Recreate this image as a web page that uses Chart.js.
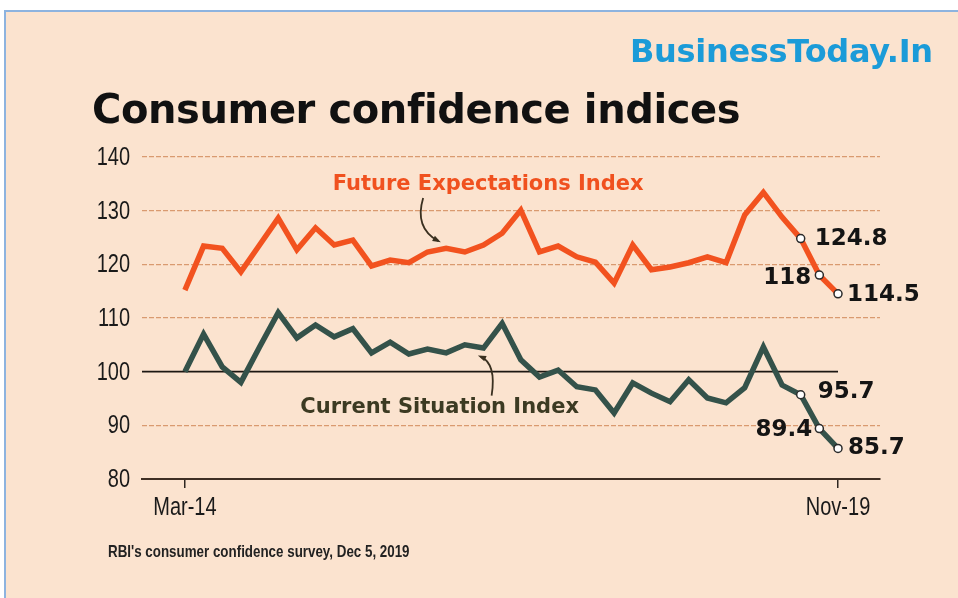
<!DOCTYPE html>
<html>
<head>
<meta charset="utf-8">
<script src="https://cdn.jsdelivr.net/npm/chart.js"></script>
<style>
  html, body { margin: 0; padding: 0; background: #ffffff; }
  #frame {
    position: absolute; left: 4px; top: 10px; width: 954px; height: 588px;
    background: #fbe3cf; border-left: 2px solid #8db3df; border-top: 2px solid #8db3df;
    box-sizing: border-box;
  }
  #chart { position: absolute; left: 0; top: 0; }
  .txt { position: absolute; white-space: nowrap; line-height: 1; transform-origin: left top; }
  #brand { left: 630px; top: 32px; font: bold 32px "DejaVu Sans"; color: #1b9bd8; letter-spacing: -0.3px; }
  #title { left: 92px; top: 86px; font: bold 40px "DejaVu Sans"; color: #111; letter-spacing: -0.4px; }
  #source { left: 108px; top: 542px; font: bold 16.5px "Liberation Sans", Arial, sans-serif; color: #222; transform: scaleX(0.81); }
</style>
</head>
<body>
<div id="frame"></div>
<canvas id="chart" width="958" height="598"></canvas>
<div class="txt" id="brand">BusinessToday.In</div>
<div class="txt" id="title">Consumer confidence indices</div>
<div class="txt" id="source">RBI's consumer confidence survey, Dec 5, 2019</div>
<script>
// survey rounds, Mar-14 .. Nov-19 (only first and last are labelled)
const rounds = [
  'Mar-14', 'May-14', 'Jul-14', 'Sep-14', 'Nov-14',
  'Jan-15', 'Mar-15', 'May-15', 'Jul-15', 'Sep-15', 'Nov-15',
  'Jan-16', 'Mar-16', 'May-16', 'Jul-16', 'Sep-16', 'Nov-16',
  'Jan-17', 'Mar-17', 'May-17', 'Jul-17', 'Sep-17', 'Nov-17', 'Dec-17',
  'Mar-18', 'May-18', 'Jun-18', 'Jul-18', 'Sep-18', 'Nov-18', 'Dec-18',
  'Mar-19', 'May-19', 'Jul-19', 'Sep-19', 'Nov-19'
];
const shownTicks = ['Mar-14', 'Nov-19'];

const futureExpectations = [
  115.2, 123.4, 123.0, 118.6, 123.6, 128.6, 122.7, 126.8, 123.6, 124.5,
  119.7, 120.8, 120.3, 122.3, 123.0, 122.3, 123.6, 125.8, 130.1, 122.3,
  123.4, 121.4, 120.4, 116.5, 123.6, 119.0, 119.5, 120.3, 121.4, 120.3,
  129.2, 133.4, 128.8, 124.8, 118.0, 114.5
];
const currentSituation = [
  100.0, 107.0, 100.9, 98.0, 104.6, 111.0, 106.3, 108.7, 106.5, 108.0,
  103.5, 105.5, 103.3, 104.2, 103.5, 105.0, 104.4, 109.0, 102.2, 99.0,
  100.3, 97.2, 96.6, 92.3, 97.9, 96.0, 94.4, 98.5, 95.1, 94.2,
  97.0, 104.6, 97.5, 95.7, 89.4, 85.7
];
const yTicks = [80, 90, 100, 110, 120, 130, 140];
const baseline = 100;

const asPoints = arr => arr.map((v, i) => ({ x: i, y: v }));
const last = futureExpectations.length - 1;

// offsets for the end-value labels (style only)
const endLabelStyle = [
  { series: 0, idx: last - 2, align: 'left', dx: 14, dy: 0 },
  { series: 0, idx: last - 1, align: 'right', dx: -8, dy: 3 },
  { series: 0, idx: last, align: 'left', dx: 9, dy: 1 },
  { series: 1, idx: last - 2, align: 'left', dx: 17, dy: -3 },
  { series: 1, idx: last - 1, align: 'right', dx: -7, dy: 1 },
  { series: 1, idx: last, align: 'left', dx: 10, dy: 0 }
];

function arrow(ctx, sx, sy, cx, cy, ex, ey) {
  ctx.beginPath();
  ctx.moveTo(sx, sy);
  ctx.quadraticCurveTo(cx, cy, ex, ey);
  ctx.stroke();
  const a = Math.atan2(ey - cy, ex - cx);
  ctx.beginPath();
  ctx.moveTo(ex + Math.cos(a) * 3, ey + Math.sin(a) * 3);
  ctx.lineTo(ex - Math.cos(a - 0.5) * 6, ey - Math.sin(a - 0.5) * 6);
  ctx.lineTo(ex - Math.cos(a + 0.5) * 6, ey - Math.sin(a + 0.5) * 6);
  ctx.closePath();
  ctx.fill();
}

// condensed tick text: regular font squeezed horizontally
function narrowText(ctx, text, px, py, align) {
  ctx.save();
  ctx.translate(px, py);
  ctx.scale(0.8, 1);
  ctx.textAlign = align;
  ctx.fillText(text, 0, 0);
  ctx.restore();
}

const annotations = {
  id: 'annotations',
  beforeDatasetsDraw(chart) {
    const { ctx, chartArea, scales: { x, y } } = chart;
    const py = y.getPixelForValue(baseline);
    ctx.save();
    ctx.strokeStyle = '#1c1712';
    ctx.lineWidth = 1.6;
    ctx.beginPath();
    ctx.moveTo(chartArea.left, py);
    ctx.lineTo(x.getPixelForValue(last), py);
    ctx.stroke();

    // tick labels
    ctx.font = '25px "Liberation Sans", Arial, sans-serif';
    ctx.fillStyle = '#1a1a1a';
    ctx.textBaseline = 'middle';
    y.ticks.forEach(t => narrowText(ctx, String(t.value), chartArea.left - 12, y.getPixelForValue(t.value) + 1, 'right'));
    x.ticks.forEach(t => narrowText(ctx, rounds[t.value], x.getPixelForValue(t.value), chartArea.bottom + 29, 'center'));
    ctx.restore();
  },
  afterDatasetsDraw(chart) {
    const { ctx, scales: { x, y } } = chart;
    ctx.save();

    // end values
    ctx.font = 'bold 23px "DejaVu Sans"';
    ctx.fillStyle = '#141414';
    ctx.textBaseline = 'middle';
    endLabelStyle.forEach(l => {
      const pt = chart.getDatasetMeta(l.series).data[l.idx];
      const v = chart.data.datasets[l.series].data[l.idx].y;
      ctx.textAlign = l.align;
      ctx.fillText(String(v), pt.x + l.dx, pt.y + l.dy);
    });

    // series names with arrows
    ctx.font = 'bold 21px "DejaVu Sans"';
    ctx.textAlign = 'center';
    const fx = x.getPixelForValue(16.25), fy = y.getPixelForValue(134.8);
    ctx.fillStyle = '#f0511f';
    ctx.fillText('Future Expectations Index', fx, fy);
    const cx = x.getPixelForValue(13.65), cy = y.getPixelForValue(93.3);
    ctx.fillStyle = '#3c3a22';
    ctx.fillText('Current Situation Index', cx, cy);

    ctx.strokeStyle = '#3a3020';
    ctx.fillStyle = '#3a3020';
    ctx.lineWidth = 1.8;
    arrow(ctx, fx - 65, fy + 13, fx - 74, fy + 43, fx - 50, fy + 56);
    arrow(ctx, cx + 52, cy - 12, cx + 57, cy - 44, cx + 41, cy - 51);
    ctx.restore();
  }
};

const endPoint = ctx => (ctx.dataIndex >= last - 2 ? 4 : 0);

new Chart(document.getElementById('chart'), {
  type: 'line',
  data: {
    datasets: [{
      label: 'Future Expectations Index',
      data: asPoints(futureExpectations),
      borderColor: '#f2521f',
      borderWidth: 5.5,
      tension: 0,
      pointRadius: endPoint,
      pointBackgroundColor: '#ffffff',
      pointBorderColor: '#2a2a2a',
      pointBorderWidth: 1.5
    }, {
      label: 'Current Situation Index',
      data: asPoints(currentSituation),
      borderColor: '#34524a',
      borderWidth: 5.5,
      tension: 0,
      pointRadius: endPoint,
      pointBackgroundColor: '#ffffff',
      pointBorderColor: '#2a2a2a',
      pointBorderWidth: 1.5
    }]
  },
  options: {
    responsive: false,
    animation: false,
    layout: { padding: { left: 0, right: 78, top: 157, bottom: 74 } },
    plugins: { legend: { display: false }, tooltip: { enabled: false } },
    scales: {
      x: {
        type: 'linear',
        min: -2.3,
        max: last + 2.25,
        afterBuildTicks: scale => {
          scale.ticks = shownTicks.map(t => ({ value: rounds.indexOf(t) }));
        },
        afterFit: scale => { scale.height = 45; },
        ticks: { display: false },
        grid: {
          drawOnChartArea: false,
          drawTicks: true,
          tickLength: 9,
          color: '#2e2620',
          lineWidth: 1.5
        },
        border: { display: true, color: '#3f2f24', width: 2 }
      },
      y: {
        min: yTicks[0],
        max: yTicks[yTicks.length - 1],
        afterBuildTicks: scale => { scale.ticks = yTicks.map(v => ({ value: v })); },
        afterFit: scale => { scale.width = 142; },
        ticks: { display: false },
        grid: {
          drawTicks: false,
          color: c => (c.tick.value === 80 || c.tick.value === baseline ? 'rgba(0,0,0,0)' : '#d99a70'),
          lineWidth: 1.3
        },
        border: { display: false, dash: [5, 2] }
      }
    }
  },
  plugins: [annotations]
});
</script>
</body>
</html>
